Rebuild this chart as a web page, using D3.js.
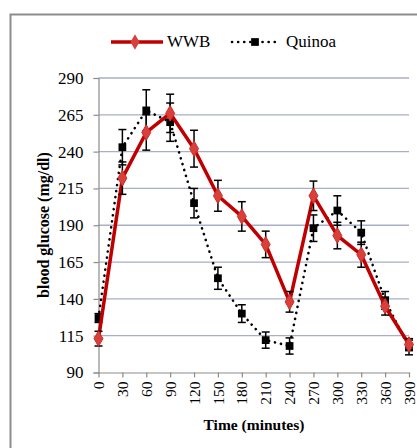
<!DOCTYPE html>
<html><head><meta charset="utf-8">
<script src="https://cdn.jsdelivr.net/npm/d3@7"></script>
<style>body{margin:0;background:#fff}svg{display:block}
svg text{font-family:"Liberation Serif","Times New Roman",Times,"DejaVu Serif",serif !important;}</style>
</head><body>
<svg id="c" width="417" height="448"></svg>
<script>
const times = [0,30,60,90,120,150,180,210,240,270,300,330,360,390];
const wwb = [113,222,253,266,242,210,196,177,138,210,183,170,135,109];
const wwbErr = [5,11,12,13,12.5,10.5,10,9,7,10,9,8.5,6,4];
const quinoa = [127,243,268,260,205,154,130,112,108,188,200,185,139,107];
const quinoaErr = [3,12,14,13,10,7.5,6,5.5,5.5,9,10,8,6,5];
const yTicks = [90,115,140,165,190,215,240,265,290];
const xTicks = times;

const svg = d3.select("#c");
svg.append("rect").attr("x",10.5).attr("y",14.5).attr("width",500).attr("height",500)
  .attr("fill","#fff").attr("stroke","#8c8c8c").attr("stroke-width",2);

const x = d3.scaleLinear().domain([0,390]).range([98.5,409]);
const y = d3.scaleLinear().domain([90,290]).range([372.5,78]);

svg.append("g").selectAll("line").data(yTicks.slice(1)).join("line")
  .attr("x1",98.5).attr("x2",409).attr("y1",d=>y(d)).attr("y2",d=>y(d))
  .attr("stroke","#a9afc6").attr("stroke-width",1.3);

const ya = svg.append("g").attr("transform","translate(98.5,0)")
  .call(d3.axisLeft(y).tickValues(yTicks).tickSize(5).tickPadding(10));
ya.selectAll("path,line").attr("stroke","#8c8c8c").attr("stroke-width",1.2);
ya.selectAll("text").attr("font-size",17).attr("fill","#000");

const xa = svg.append("g").attr("transform","translate(0,372.5)")
  .call(d3.axisBottom(x).tickValues(xTicks).tickSize(5).tickSizeOuter(0));
xa.selectAll("path,line").attr("stroke","#8c8c8c").attr("stroke-width",1.2);
xa.selectAll("text").attr("font-size",15.5).attr("fill","#000")
  .attr("transform","rotate(-90)").attr("text-anchor","end")
  .attr("x",-9).attr("y",0).attr("dy","0.33em");

function drawSeries(vals, errs, opt){
  const g = svg.append("g");
  const line = d3.line().x((d,i)=>x(times[i])).y(d=>y(d));
  g.append("path").datum(vals).attr("d",line).attr("fill","none")
    .attr("stroke",opt.color).attr("stroke-width",opt.width)
    .attr("stroke-dasharray",opt.dash||null).attr("stroke-linecap",opt.dash?"round":"butt")
    .attr("stroke-linejoin","round");
  const eb = g.append("g").attr("stroke","#000").attr("stroke-width",1.5);
  vals.forEach((v,i)=>{
    const cx = x(times[i]);
    eb.append("line").attr("x1",cx).attr("x2",cx).attr("y1",y(v+errs[i])).attr("y2",y(v-errs[i]));
    eb.append("line").attr("x1",cx-4).attr("x2",cx+4).attr("y1",y(v+errs[i])).attr("y2",y(v+errs[i]));
    eb.append("line").attr("x1",cx-4).attr("x2",cx+4).attr("y1",y(v-errs[i])).attr("y2",y(v-errs[i]));
  });
  const sym = d3.symbol().type(opt.symbol).size(opt.size);
  g.selectAll("path.m").data(vals).join("path").attr("class","m")
    .attr("d",sym).attr("transform",(d,i)=>`translate(${x(times[i])},${y(d)})`)
    .attr("fill",opt.mfill).attr("stroke",opt.mstroke||"none").attr("stroke-width",1);
}
drawSeries(quinoa, quinoaErr, {color:"#000",width:2.6,dash:"0.1 6",symbol:d3.symbolSquare,size:60,mfill:"#000"});
drawSeries(wwb, wwbErr, {color:"#c00000",width:3.5,symbol:d3.symbolDiamond,size:70,mfill:"#d9403c",mstroke:"#c9302c"});

const lg = svg.append("g");
lg.append("line").attr("x1",111).attr("x2",163).attr("y1",42).attr("y2",42).attr("stroke","#c00000").attr("stroke-width",3.5);
lg.append("path").attr("d",d3.symbol().type(d3.symbolDiamond).size(70)).attr("transform","translate(135,42)").attr("fill","#d9403c");
lg.append("text").attr("x",167).attr("y",47).text("WWB").attr("font-size",17);
lg.append("line").attr("x1",232).attr("x2",278).attr("y1",42).attr("y2",42).attr("stroke","#000").attr("stroke-width",2.6)
  .attr("stroke-dasharray","0.1 6").attr("stroke-linecap","round");
lg.append("path").attr("d",d3.symbol().type(d3.symbolSquare).size(60)).attr("transform","translate(255,42)").attr("fill","#000");
lg.append("text").attr("x",286).attr("y",47).text("Quinoa").attr("font-size",17);

svg.append("text").attr("x",254).attr("y",430).attr("text-anchor","middle")
  .attr("font-weight","bold").attr("font-size",15.5).text("Time (minutes)");
svg.append("text").attr("transform","translate(48.5,225) rotate(-90)").attr("text-anchor","middle")
  .attr("font-weight","bold").attr("font-size",16).text("blood glucose (mg/dl)");
</script>
</body></html>
